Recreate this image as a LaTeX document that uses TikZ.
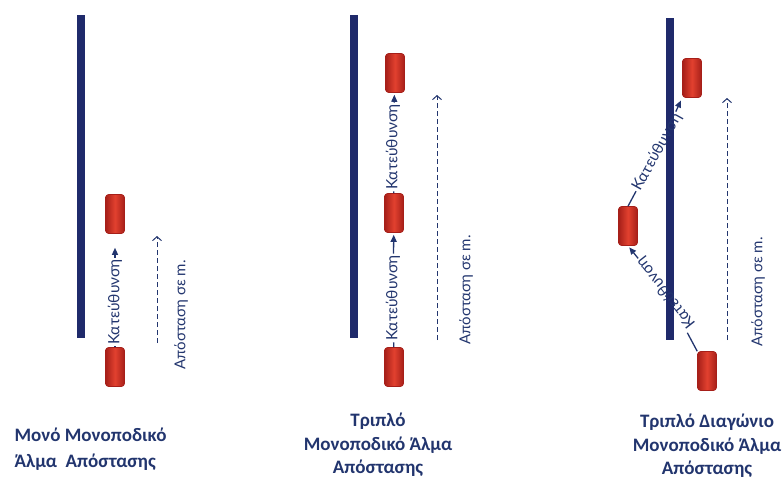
\documentclass[tikz,border=0pt]{standalone}
\usepackage{fontspec}
\setmainfont{Carlito}
\newfontfamily\labelfont{Lato}
\usetikzlibrary{arrows.meta}

\definecolor{barblue}{HTML}{1F2A6B}
\definecolor{textblue}{HTML}{22356E}
\definecolor{boxred}{HTML}{E2412F}
\definecolor{boxdark}{HTML}{A61F19}

\tikzset{
  box/.style={minimum width=19pt, minimum height=39pt, inner sep=0pt,
    rounded corners=3pt, draw=boxdark, line width=0.6pt,
    left color=boxdark, right color=boxdark, middle color=boxred},
  bar/.style={line width=8pt, barblue},
  dirlabel/.style={font=\labelfont\fontsize{15.5}{15.5}\selectfont, text=textblue, inner sep=1.5pt},
  dirarrow/.style={line width=1.3pt, textblue, -{Triangle[length=7pt,width=6pt]}},
  dirline/.style={line width=1.3pt, textblue},
  distlabel/.style={font=\labelfont\fontsize{15}{15}\selectfont, text=textblue, rotate=90},
  distarrow/.style={line width=1pt, textblue, dash pattern=on 5pt off 3pt,
    -{Straight Barb[length=4pt,width=9pt]}},
  caption/.style={font=\bfseries\fontsize{19}{23.5}\selectfont, text=textblue, align=center}
}

\begin{document}
\begin{tikzpicture}[x=1pt,y=-1pt]
  \useasboundingbox (0,0) rectangle (784,479);

  % ---------- single hop ----------
  % track line
  \draw[bar] (80.5,15) -- (80.5,338);
  % feet
  \node[box] (p1top) at (115,214) {};
  \node[box] (p1bot) at (115,367) {};
  % direction
  \node[dirlabel, rotate=90] (p1dir) at (115,302) {Κατεύθυνση};
  \draw[dirline] (p1bot) -- (p1dir);
  \draw[dirarrow, shorten >=14pt] (p1dir) -- (p1top);
  % distance
  \coordinate (p1from) at (157,343);
  \coordinate (p1to) at (157,236);
  \draw[distarrow] (p1from) -- (p1to);
  \node[distlabel] (p1dist) at (181,315) {Απόσταση σε m.};
  % caption (left aligned, wider line gap)
  \node[caption, font=\bfseries\fontsize{19}{26}\selectfont, align=left, anchor=west]
    (p1cap) at (11,449) {Μονό Μονοποδικό\\Άλμα \ Απόστασης};

  % ---------- triple hop ----------
  \draw[bar] (354,15) -- (354,338);
  \node[box] (p2top) at (395,73) {};
  \node[box] (p2mid) at (394,213) {};
  \node[box] (p2bot) at (394,367) {};
  \node[dirlabel, rotate=90] (p2dirA) at (393,298) {Κατεύθυνση};
  \node[dirlabel, rotate=90] (p2dirB) at (393,147) {Κατεύθυνση};
  \draw[dirline] (p2bot) -- (p2dirA);
  \draw[dirarrow, shorten >=2pt] (p2dirA) -- (p2mid);
  \draw[dirline] (p2mid) -- (p2dirB);
  \draw[dirarrow, shorten >=2pt] (p2dirB) -- (p2top);
  \coordinate (p2from) at (437,340);
  \coordinate (p2to) at (437,95);
  \draw[distarrow] (p2from) -- (p2to);
  \node[distlabel] (p2dist) at (466,290) {Απόσταση σε m.};
  \node[caption] (p2cap) at (378,445) {Τριπλό\\Μονοποδικό Άλμα\\Απόστασης};

  % ---------- triple diagonal hop ----------
  \draw[bar] (670,18) -- (670,340);
  \node[box] (p3top) at (692,78) {};
  \node[box] (p3mid) at (628,226) {};
  \node[box] (p3bot) at (707,371) {};
  % slanted labels on the hop lines
  \node[dirlabel, rotate=128] (p3dirA) at (666,293) {Κατεύθυνση};
  \node[dirlabel, rotate=61] (p3dirB) at (657,152) {Κατεύθυνση};
  \draw[dirline] (p3bot.north west) -- (p3dirA);
  \draw[dirarrow, shorten >=2pt] (p3dirA) -- (p3mid.south);
  \draw[dirline] (p3mid.north) -- (p3dirB);
  \draw[dirarrow, shorten >=3pt] (p3dirB) -- (p3top.south west);
  \coordinate (p3from) at (727,340);
  \coordinate (p3to) at (727,98);
  \draw[distarrow] (p3from) -- (p3to);
  \node[distlabel] (p3dist) at (758,292) {Απόσταση σε m.};
  \node[caption] (p3cap) at (707,446) {Τριπλό Διαγώνιο\\Μονοποδικό Άλμα\\Απόστασης};
\end{tikzpicture}
\end{document}
